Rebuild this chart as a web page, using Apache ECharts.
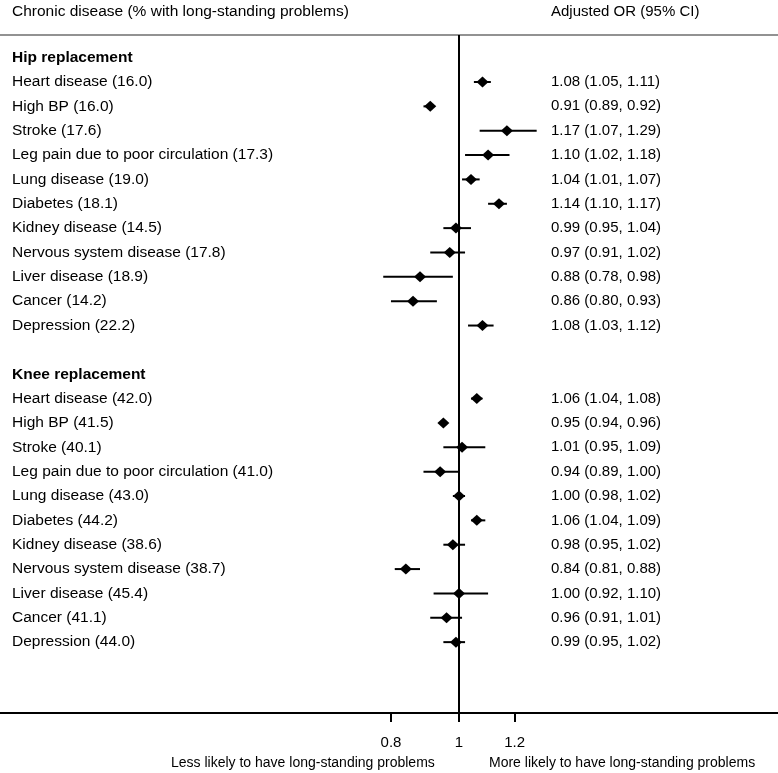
<!DOCTYPE html>
<html>
<head>
<meta charset="utf-8">
<script src="https://cdn.jsdelivr.net/npm/echarts@6/dist/echarts.min.js"></script>
<style>html,body{margin:0;padding:0;background:#fff}#c{width:778px;height:773px}</style>
</head>
<body>
<div id="c"></div>
<script>
const diseases = ['Heart disease','High BP','Stroke','Leg pain due to poor circulation','Lung disease','Diabetes','Kidney disease','Nervous system disease','Liver disease','Cancer','Depression'];
const hipPct  = [16.0,16.0,17.6,17.3,19.0,18.1,14.5,17.8,18.9,14.2,22.2];
const hipOR   = [1.08,0.91,1.17,1.10,1.04,1.14,0.99,0.97,0.88,0.86,1.08];
const hipLow  = [1.05,0.89,1.07,1.02,1.01,1.10,0.95,0.91,0.78,0.80,1.03];
const hipHigh = [1.11,0.92,1.29,1.18,1.07,1.17,1.04,1.02,0.98,0.93,1.12];
const kneePct  = [42.0,41.5,40.1,41.0,43.0,44.2,38.6,38.7,45.4,41.1,44.0];
const kneeOR   = [1.06,0.95,1.01,0.94,1.00,1.06,0.98,0.84,1.00,0.96,0.99];
const kneeLow  = [1.04,0.94,0.95,0.89,0.98,1.04,0.95,0.81,0.92,0.91,0.95];
const kneeHigh = [1.08,0.96,1.09,1.00,1.02,1.09,1.02,0.88,1.10,1.01,1.02];
const groups = ['Hip replacement','Knee replacement'];
const xTicks = [0.8, 1, 1.2];

// build rows
const rowLabel = {}, rowRight = {}, headerRows = {};
const points = [], bars = [];
let r = 0;
[[hipPct,hipOR,hipLow,hipHigh],[kneePct,kneeOR,kneeLow,kneeHigh]].forEach((g, gi) => {
  rowLabel[r] = groups[gi]; headerRows[r] = true; r++;
  diseases.forEach((d, i) => {
    rowLabel[r] = d + ' (' + g[0][i].toFixed(1) + ')';
    rowRight[r] = g[1][i].toFixed(2) + ' (' + g[2][i].toFixed(2) + ', ' + g[3][i].toFixed(2) + ')';
    points.push([g[1][i], r]);
    bars.push([g[2][i], g[3][i], r]);
    r++;
  });
  r++; // blank row
});
const leftRows = Object.keys(rowLabel).map(Number);
const rightRows = Object.keys(rowRight).map(Number);

const FONT = 'Liberation Sans';
const FS = 15;
const FSL = 15.5;
const chart = echarts.init(document.getElementById('c'));
chart.setOption({
  animation: false,
  textStyle: {fontFamily: FONT},
  grid: {left: 0, right: 0, top: 35, bottom: 60, containLabel: false},
  xAxis: [{
    type: 'log', logBase: Math.E, min: 0.222, max: 2.846, position: 'bottom',
    axisLine: {onZero: false, lineStyle: {color: '#000', width: 2}},
    axisTick: {customValues: xTicks, length: 9, lineStyle: {color: '#000', width: 2}},
    axisLabel: {customValues: xTicks, margin: 22, color: '#000', fontSize: FS, fontFamily: FONT,
      formatter: v => String(+v.toFixed(2))},
    splitLine: {show: false}
  }, {
    type: 'log', logBase: Math.E, min: 0.222, max: 2.846, position: 'top',
    axisLine: {show: true, onZero: false, lineStyle: {color: '#6e6e6e', width: 1.5}},
    axisTick: {show: false}, axisLabel: {show: false}, splitLine: {show: false}
  }],
  yAxis: [{
    type: 'value', inverse: true, min: -0.93, max: 26.91, position: 'left',
    axisLine: {show: false}, axisTick: {show: false}, splitLine: {show: false},
    axisLabel: {inside: true, margin: 12, align: 'left', customValues: leftRows,
      formatter: v => headerRows[v] ? '{b|' + rowLabel[v] + '}' : '{n|' + rowLabel[v] + '}',
      rich: {b: {fontWeight: 'bold', fontSize: FSL, color: '#000', fontFamily: FONT},
             n: {fontSize: FSL, color: '#000', fontFamily: FONT}}}
  }, {
    type: 'value', inverse: true, min: -0.93, max: 26.91, position: 'right',
    axisLine: {show: false}, axisTick: {show: false}, splitLine: {show: false},
    axisLabel: {inside: true, margin: 227, align: 'left', customValues: rightRows,
      color: '#000', fontSize: FS, fontFamily: FONT,
      formatter: v => rowRight[v] || ''}
  }],
  graphic: [
    {type: 'text', left: 12, top: 4, style: {text: 'Chronic disease (% with long-standing problems)', font: FSL + 'px ' + FONT, fill: '#000'}},
    {type: 'text', left: 551, top: 4, style: {text: 'Adjusted OR (95% CI)', font: FS + 'px ' + FONT, fill: '#000'}},
    {type: 'text', left: 171, top: 756, style: {text: 'Less likely to have long-standing problems', font: '14px ' + FONT, fill: '#000'}},
    {type: 'text', left: 489, top: 756, style: {text: 'More likely to have long-standing problems', font: '14px ' + FONT, fill: '#000'}}
  ],
  series: [{
    type: 'custom',
    data: bars,
    renderItem: (params, api) => {
      const a = api.coord([api.value(0), api.value(2)]);
      const b = api.coord([api.value(1), api.value(2)]);
      return {type: 'line', shape: {x1: a[0], y1: a[1], x2: b[0], y2: b[1]}, style: {stroke: '#000', lineWidth: 2}};
    },
    markLine: {
      silent: true, symbol: 'none', label: {show: false},
      lineStyle: {color: '#000', width: 2, type: 'solid', opacity: 1},
      data: [{xAxis: 1}]
    }
  }, {
    type: 'scatter', symbol: 'diamond', symbolSize: [12, 11],
    itemStyle: {color: '#000', opacity: 1}, data: points, z: 5
  }]
});
</script>
</body>
</html>
